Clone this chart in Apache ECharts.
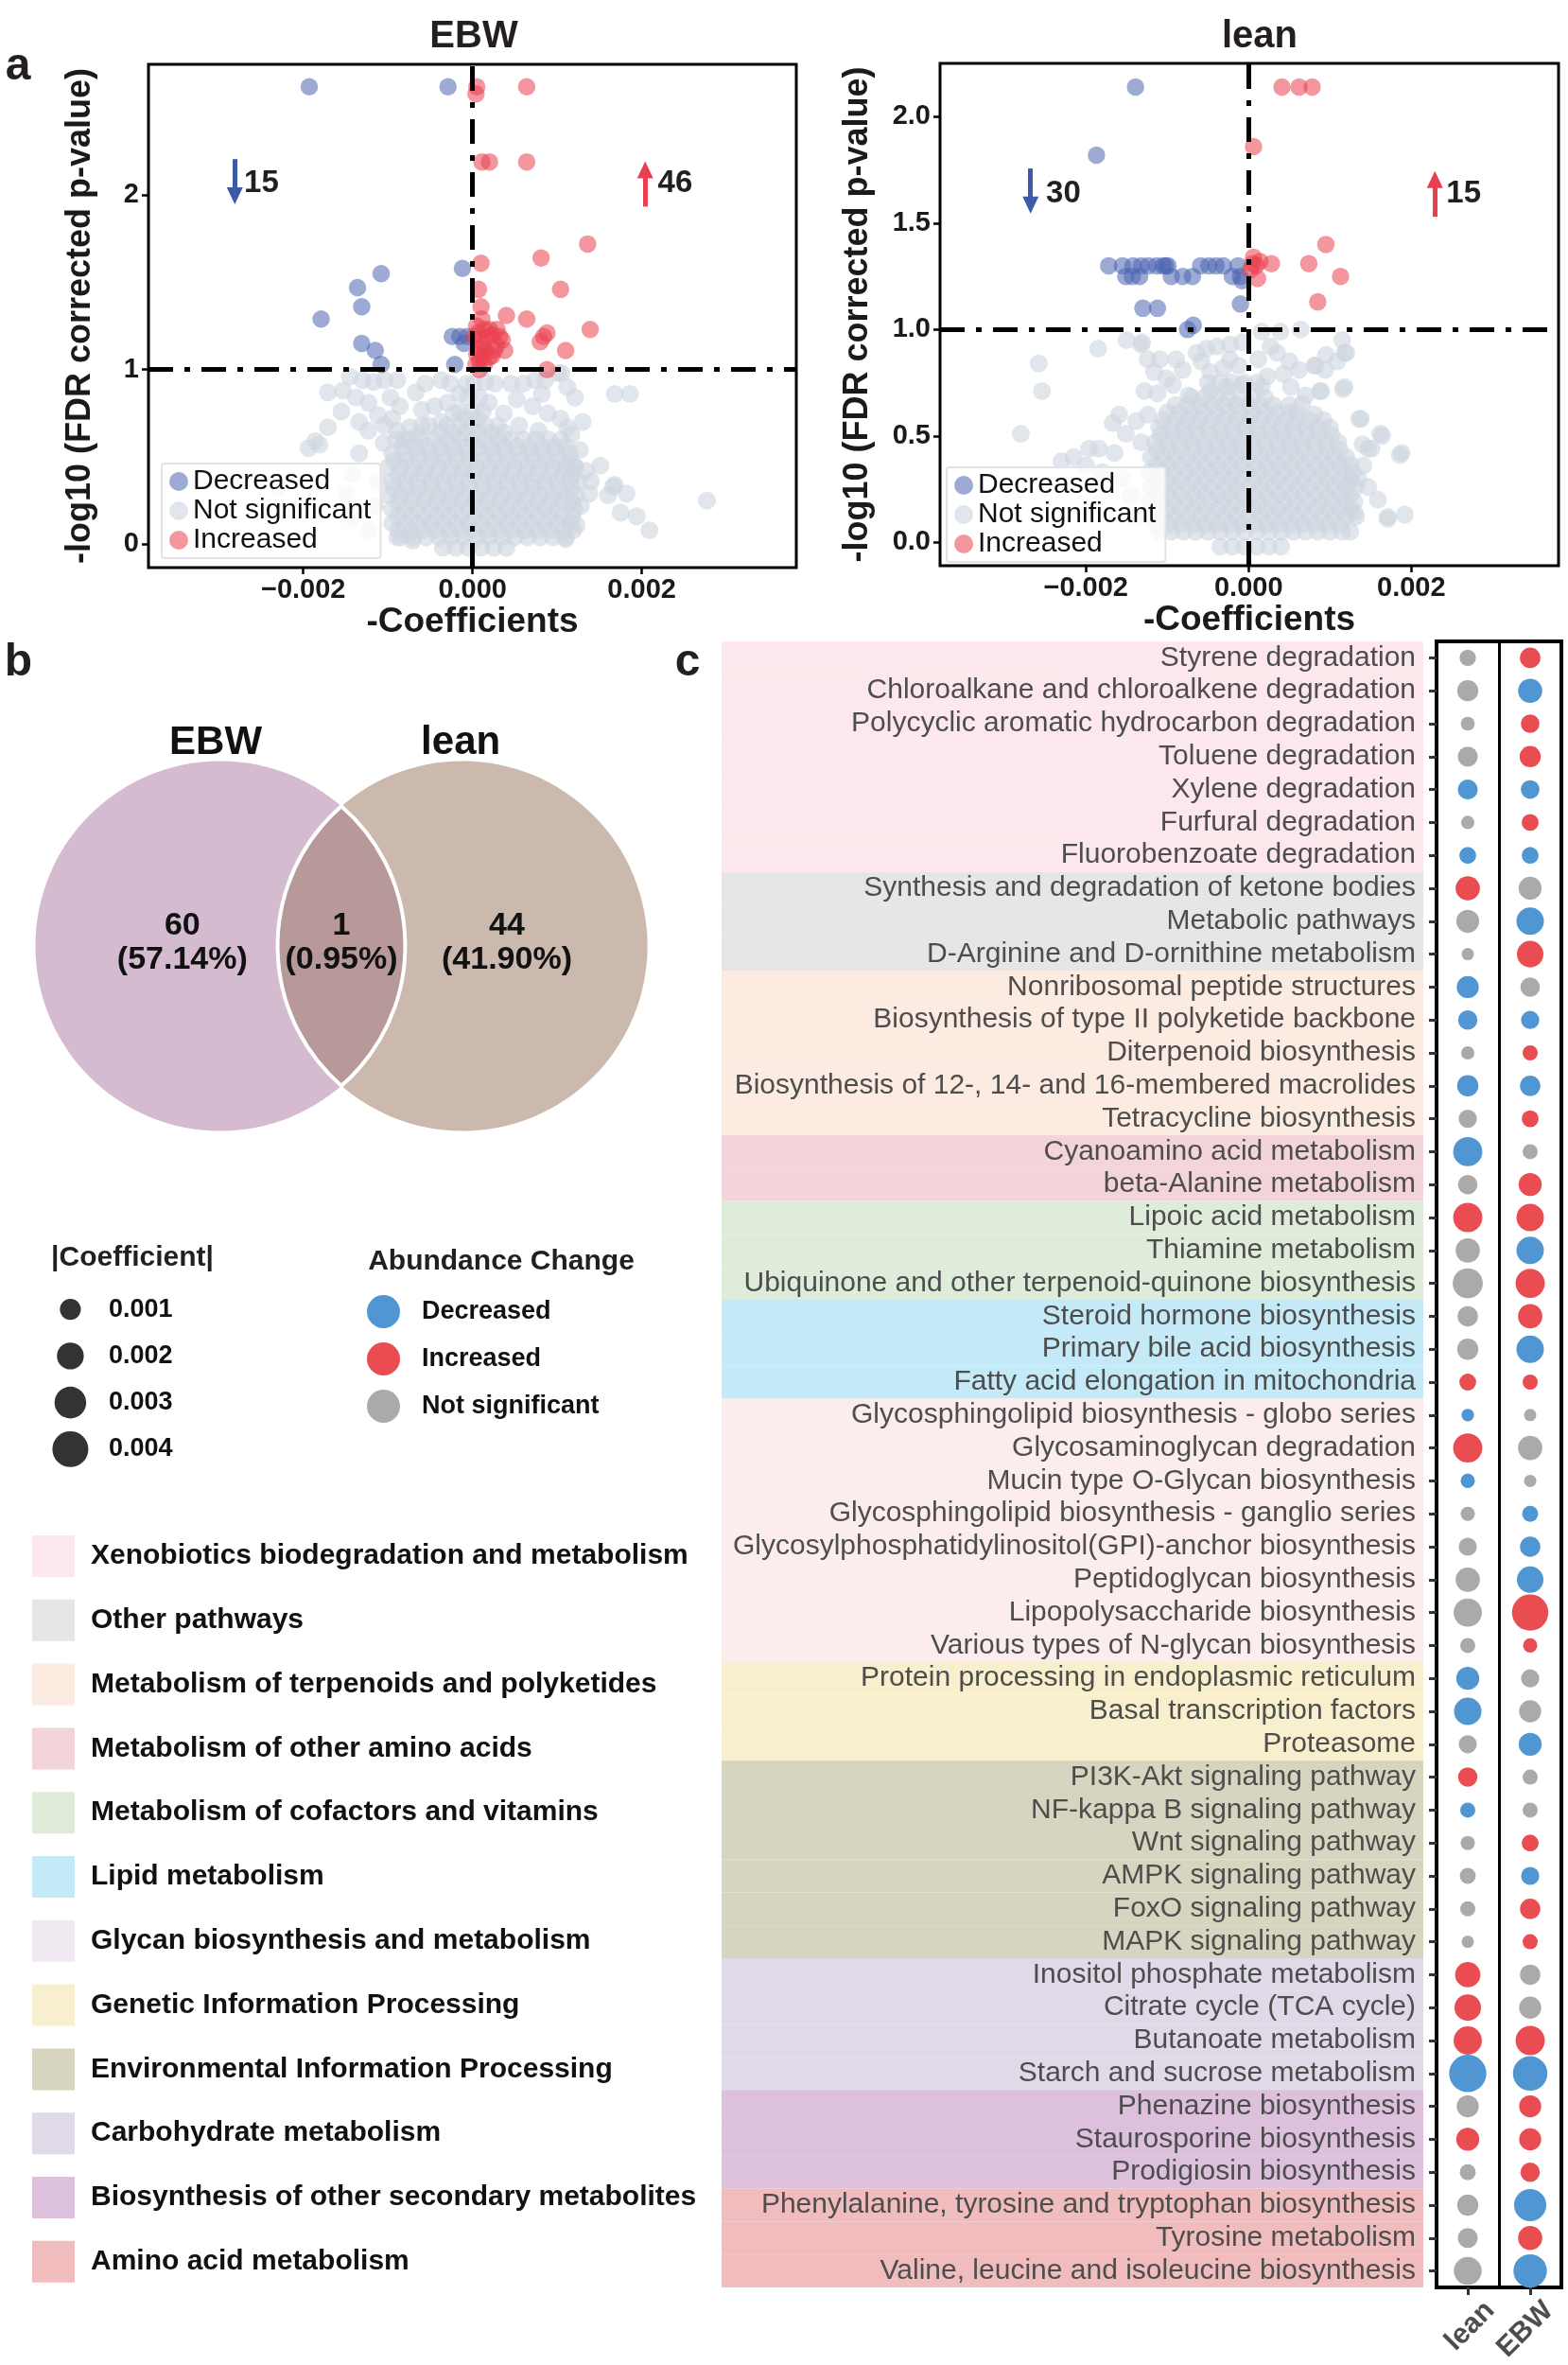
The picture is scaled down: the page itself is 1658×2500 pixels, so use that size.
<!DOCTYPE html>
<html><head><meta charset="utf-8">
<script src="https://cdn.jsdelivr.net/npm/echarts@6/dist/echarts.min.js"></script>
<style>html,body{margin:0;padding:0;background:#fff}#c{width:1658px;height:2500px}</style>
</head><body><div id="c"></div>
<script>
const FONT = '"Liberation Sans", Arial, Helvetica, sans-serif';

// ================= Panel a : volcano plots =================
// points: [coefficient x 1000, -log10(FDR p)]
const ebwDecreased = [[-1.93,2.62],[-0.29,2.62],[-1.08,1.55],[-1.36,1.47],[-1.31,1.36],[-1.79,1.29],[-1.31,1.15],[-1.15,1.11],[-1.08,1.03],[-0.12,1.58],[-0.24,1.19],[-0.15,1.19],[-0.06,1.19],[-0.10,1.15],[-0.21,1.03]];
const ebwIncreased = [[0.05,2.62],[0.64,2.62],[0.04,2.58],[0.11,2.19],[0.20,2.19],[0.64,2.19],[1.36,1.72],[0.81,1.64],[0.10,1.61],[0.07,1.46],[1.04,1.46],[0.10,1.36],[0.40,1.31],[0.64,1.29],[1.39,1.23],[0.11,1.29],[0.14,1.23],[0.17,1.19],[0.23,1.20],[0.32,1.19],[0.35,1.17],[0.11,1.16],[0.08,1.12],[0.16,1.11],[0.26,1.11],[0.11,1.07],[0.14,1.03],[0.08,1.0],[0.84,1.19],[0.80,1.16],[0.88,1.21],[1.10,1.11],[0.38,1.11],[0.88,1.0],[0.05,1.25],[0.06,1.21],[0.20,1.23],[0.28,1.14],[0.05,1.09],[0.20,1.07],[0.08,1.05],[0.29,1.23],[0.02,1.19],[0.12,1.13],[0.23,1.08],[0.04,1.03]];
const ebwNSOutliers = [[-1.71,0.87],[-1.55,0.76],[-1.71,0.67],[-1.86,0.59],[-1.94,0.55],[-1.81,0.57],[-1.45,0.96],[-1.30,0.94],[-1.17,0.93],[-1.04,0.94],[-0.89,0.94],[-0.67,0.87],[-0.56,0.92],[-0.37,0.94],[-0.26,0.92],[-0.15,0.86],[-0.60,0.77],[-0.45,0.79],[-0.30,0.81],[-1.53,0.88],[-1.38,0.84],[-1.23,0.81],[-1.12,0.74],[-0.97,0.84],[-0.86,0.79],[-1.34,0.70],[-1.23,0.65],[-1.04,0.68],[-0.89,0.65],[-0.74,0.67],[-0.52,0.68],[-0.37,0.70],[-0.22,0.75],[-0.07,0.92],[0.15,0.93],[0.26,0.92],[0.45,0.92],[0.60,0.92],[0.74,0.94],[0.86,0.94],[1.01,0.98],[1.12,0.90],[1.21,0.84],[1.30,0.70],[1.17,0.63],[1.27,0.54],[1.34,0.42],[1.40,0.36],[1.38,0.29],[1.51,0.45],[1.68,0.34],[1.82,0.29],[1.75,0.18],[1.94,0.16],[2.09,0.08],[2.77,0.25],[1.68,0.86],[1.86,0.86],[1.23,0.11],[1.19,0.08],[0.82,0.86],[0.89,0.75],[0.71,0.79],[0.52,0.83],[0.37,0.75],[0.19,0.81],[1.04,0.72],[0.78,0.65],[1.12,0.67],[-1.34,0.52],[-1.42,0.40],[-1.49,0.29],[-1.42,0.15],[-1.23,0.08],[-1.15,0.22],[-1.12,0.36],[-0.89,0.04],[-0.71,0.02],[-2.29,0.33],[1.60,0.28],[1.66,0.33],[1.05,0.98],[-0.95,0.72],[-0.80,0.60],[-1.05,0.58],[-0.65,0.62],[1.20,0.45],[1.28,0.22],[1.10,0.03]];
const ebwNSCoreRows = [
  [-0.02,[-0.35,-0.2,-0.05,0.1,0.25,0.4]],
  [0.04,[-0.85,-0.7,-0.55,-0.4,-0.25,-0.1,0.05,0.2,0.35,0.5,0.65,0.8,0.95,1.1]],
  [0.08,[-0.88,-0.73,-0.58,-0.43,-0.28,-0.13,0.02,0.17,0.32,0.47,0.62,0.77,0.92,1.07]],
  [0.12,[-0.95,-0.8,-0.65,-0.5,-0.35,-0.2,-0.05,0.1,0.25,0.4,0.55,0.7,0.85,1.0,1.15]],
  [0.16,[-0.88,-0.73,-0.58,-0.43,-0.28,-0.13,0.02,0.17,0.32,0.47,0.62,0.77,0.92,1.07,1.18]],
  [0.20,[-0.95,-0.8,-0.65,-0.5,-0.35,-0.2,-0.05,0.1,0.25,0.4,0.55,0.7,0.85,1.0,1.2]],
  [0.24,[-0.88,-0.73,-0.58,-0.43,-0.28,-0.13,0.02,0.17,0.32,0.47,0.62,0.77,0.92,1.07,1.18]],
  [0.28,[-1.0,-0.85,-0.7,-0.55,-0.4,-0.25,-0.1,0.05,0.2,0.35,0.5,0.65,0.8,0.95,1.1,1.22]],
  [0.32,[-0.93,-0.78,-0.63,-0.48,-0.33,-0.18,-0.03,0.12,0.27,0.42,0.57,0.72,0.87,1.02,1.17]],
  [0.36,[-0.95,-0.8,-0.65,-0.5,-0.35,-0.2,-0.05,0.1,0.25,0.4,0.55,0.7,0.85,1.0,1.15,1.25]],
  [0.40,[-0.88,-0.73,-0.58,-0.43,-0.28,-0.13,0.02,0.17,0.32,0.47,0.62,0.77,0.92,1.07,1.18]],
  [0.44,[-1.0,-0.85,-0.7,-0.55,-0.4,-0.25,-0.1,0.05,0.2,0.35,0.5,0.65,0.8,0.95,1.1,1.22]],
  [0.48,[-0.93,-0.78,-0.63,-0.48,-0.33,-0.18,-0.03,0.12,0.27,0.42,0.57,0.72,0.87,1.02,1.15]],
  [0.52,[-0.95,-0.8,-0.65,-0.5,-0.35,-0.2,-0.05,0.1,0.25,0.4,0.55,0.7,0.85,1.0,1.15]],
  [0.56,[-0.83,-0.68,-0.53,-0.38,-0.23,-0.08,0.07,0.22,0.37,0.52,0.67,0.82,0.97,1.1]],
  [0.60,[-0.9,-0.75,-0.6,-0.45,-0.3,-0.15,0,0.15,0.3,0.45,0.6,0.75,0.9,1.05]],
  [0.64,[-0.38,-0.23,-0.08,0.07,0.22,0.37]],
  [0.68,[-0.6,-0.3,-0.15,0,0.15,0.3,0.55]],
  [0.72,[-0.08,0.07]],
  [0.76,[-0.15,0,0.12]],
  [0.84,[-0.05,0.08]],
  [0.92,[0.02]]
];

const leanDecreased = [[-1.39,2.14],[-1.87,1.82],[-1.72,1.30],[-1.55,1.30],[-1.42,1.30],[-1.32,1.30],[-1.23,1.30],[-1.13,1.30],[-1.05,1.30],[-1.02,1.30],[-0.99,1.30],[-0.59,1.30],[-0.49,1.30],[-0.40,1.30],[-0.31,1.30],[-0.13,1.30],[-1.51,1.25],[-1.43,1.25],[-1.34,1.25],[-0.95,1.25],[-0.81,1.25],[-0.69,1.25],[-0.20,1.25],[-0.10,1.25],[-0.08,1.23],[-1.30,1.10],[-1.12,1.10],[-0.10,1.12],[-0.75,1.0],[-0.68,1.02]];
const leanIncreased = [[0.41,2.14],[0.62,2.14],[0.78,2.14],[0.06,1.86],[0.95,1.40],[0.74,1.31],[0.28,1.31],[0.05,1.31],[0.09,1.30],[0.02,1.28],[1.13,1.25],[0.11,1.24],[0.85,1.13],[0.14,1.32],[0.06,1.34]];
const leanNSOutliers = [[-2.80,0.51],[-2.58,0.84],[-2.54,0.71],[-1.85,0.91],[-1.50,0.95],[-1.31,0.94],[1.62,0.51],[1.86,0.41],[1.92,0.13],[1.71,0.11],[1.47,0.44],[1.38,0.58],[1.16,0.72],[1.18,0.89],[1.15,0.95],[0.64,1.0],[0.82,0.83],[0.94,0.81],[0.70,0.69],[0.88,0.71],[-1.32,0.93],[-1.24,0.86],[-1.09,0.86],[-1.16,0.80],[-1.01,0.77],[-0.81,0.81],[-0.89,0.86],[-1.28,0.71],[-1.12,0.70],[-0.93,0.74],[-0.64,0.89],[-0.52,0.91],[-0.39,0.92],[-0.23,0.93],[-0.08,0.94],[-0.58,0.85],[-0.47,0.80],[-0.31,0.82],[-0.23,0.86],[-0.12,0.83],[0.12,0.86],[0.27,0.92],[0.39,0.99],[0.16,0.99],[0.35,0.89],[0.50,0.85],[0.62,0.81],[0.43,0.79],[0.23,0.78],[0.16,0.73],[0.52,0.73],[0.81,0.83],[0.95,0.88],[1.09,0.85],[1.20,0.89],[0.89,0.71],[1.18,0.73],[0.66,0.65],[0.81,0.60],[1.36,0.58],[1.64,0.50],[1.51,0.44],[1.88,0.42],[1.41,0.36],[1.47,0.26],[1.59,0.20],[1.71,0.12],[1.30,0.14],[-1.59,0.60],[-1.67,0.56],[-1.38,0.57],[-1.51,0.51],[-1.24,0.60],[-1.96,0.44],[-1.84,0.44],[-2.15,0.40],[-1.65,0.42],[-1.32,0.47],[-0.74,0.69],[-0.47,0.71],[-0.27,0.73],[-0.08,0.74],[-2.30,0.38],[-2.00,0.36],[-1.80,0.33],[-1.55,0.30],[-1.45,0.22],[-1.40,0.12],[1.35,0.30],[1.40,0.46],[1.25,0.05]];
const leanNSCoreRows = [
  [-0.02,[-0.35,-0.2,-0.05,0.1,0.25,0.4]],
  [0.05,[-1.1,-0.95,-0.8,-0.65,-0.5,-0.35,-0.2,-0.05,0.1,0.25,0.4,0.55,0.7,0.85,1.0,1.15]],
  [0.085,[-1.13,-0.98,-0.83,-0.68,-0.53,-0.38,-0.23,-0.08,0.07,0.22,0.37,0.52,0.67,0.82,0.97,1.12]],
  [0.12,[-1.2,-1.05,-0.9,-0.75,-0.6,-0.45,-0.3,-0.15,0,0.15,0.3,0.45,0.6,0.75,0.9,1.05,1.2,1.32]],
  [0.155,[-1.13,-0.98,-0.83,-0.68,-0.53,-0.38,-0.23,-0.08,0.07,0.22,0.37,0.52,0.67,0.82,0.97,1.12,1.25]],
  [0.19,[-1.22,-1.07,-0.92,-0.77,-0.62,-0.47,-0.32,-0.17,-0.02,0.13,0.28,0.43,0.58,0.73,0.88,1.03,1.18,1.3]],
  [0.225,[-1.13,-0.98,-0.83,-0.68,-0.53,-0.38,-0.23,-0.08,0.07,0.22,0.37,0.52,0.67,0.82,0.97,1.12,1.25]],
  [0.26,[-1.2,-1.05,-0.9,-0.75,-0.6,-0.45,-0.3,-0.15,0,0.15,0.3,0.45,0.6,0.75,0.9,1.05,1.2,1.32]],
  [0.295,[-1.13,-0.98,-0.83,-0.68,-0.53,-0.38,-0.23,-0.08,0.07,0.22,0.37,0.52,0.67,0.82,0.97,1.12,1.25]],
  [0.33,[-1.22,-1.07,-0.92,-0.77,-0.62,-0.47,-0.32,-0.17,-0.02,0.13,0.28,0.43,0.58,0.73,0.88,1.03,1.18,1.28]],
  [0.365,[-1.13,-0.98,-0.83,-0.68,-0.53,-0.38,-0.23,-0.08,0.07,0.22,0.37,0.52,0.67,0.82,0.97,1.12,1.25]],
  [0.40,[-1.2,-1.05,-0.9,-0.75,-0.6,-0.45,-0.3,-0.15,0,0.15,0.3,0.45,0.6,0.75,0.9,1.05,1.2]],
  [0.435,[-1.13,-0.98,-0.83,-0.68,-0.53,-0.38,-0.23,-0.08,0.07,0.22,0.37,0.52,0.67,0.82,0.97,1.12]],
  [0.47,[-1.15,-1.0,-0.85,-0.7,-0.55,-0.4,-0.25,-0.1,0.05,0.2,0.35,0.5,0.65,0.8,0.95,1.1]],
  [0.505,[-1.08,-0.93,-0.78,-0.63,-0.48,-0.33,-0.18,-0.03,0.12,0.27,0.42,0.57,0.72,0.87,1.02]],
  [0.54,[-1.1,-0.95,-0.8,-0.65,-0.5,-0.35,-0.2,-0.05,0.1,0.25,0.4,0.55,0.7,0.85,1.0]],
  [0.575,[-1.05,-0.9,-0.75,-0.6,-0.45,-0.3,-0.15,0,0.15,0.3,0.45,0.6,0.75,0.92]],
  [0.61,[-1.0,-0.85,-0.7,-0.55,-0.4,-0.25,-0.1,0.05,0.2,0.35,0.5,0.6]],
  [0.645,[-0.9,-0.75,-0.6,-0.45,-0.3,-0.15,0,0.15,0.3,0.5]],
  [0.68,[-0.7,-0.55,-0.4,-0.25,-0.1,0.05,0.2]],
  [0.75,[-0.5,-0.35,-0.2,-0.05,0.1]]
];
const xTickValues = [-0.002, 0, 0.002];
const ebwYTicks = [0, 1, 2];
const leanYTicks = [0, 0.5, 1, 1.5, 2];
const coefThreshold = 0;
const fdrThreshold = 1;

// ================= Panel b : Venn =================
const vennSets = ['EBW', 'lean'];
const vennCounts = [60, 1, 44]; // EBW only, both, lean only

// ================= Panel c : pathway dot plot =================
const groupNames = ['Xenobiotics biodegradation and metabolism','Other pathways','Metabolism of terpenoids and polyketides','Metabolism of other amino acids','Metabolism of cofactors and vitamins','Lipid metabolism','Glycan biosynthesis and metabolism','Genetic Information Processing','Environmental Information Processing','Carbohydrate metabolism','Biosynthesis of other secondary metabolites','Amino acid metabolism'];
const groupColors = ['#fce8ec','#e6e6e6','#fcebe0','#f4d4db','#deecd9','#c4e9f7','#f2eaf2','#f8f0cd','#d7d5bf','#e0d9e7','#dcc0dc','#f0bcbd'];
const bandColors  = ['#fce8ec','#e6e6e6','#fcebe0','#f4d4db','#deecd9','#c4e9f7','#fbeced','#f8f0cd','#d7d5bf','#e0d9e7','#dcc0dc','#f0bcbd'];
const pathways = ['Styrene degradation','Chloroalkane and chloroalkene degradation','Polycyclic aromatic hydrocarbon degradation','Toluene degradation','Xylene degradation','Furfural degradation','Fluorobenzoate degradation','Synthesis and degradation of ketone bodies','Metabolic pathways','D-Arginine and D-ornithine metabolism','Nonribosomal peptide structures','Biosynthesis of type II polyketide backbone','Diterpenoid biosynthesis','Biosynthesis of 12-, 14- and 16-membered macrolides','Tetracycline biosynthesis','Cyanoamino acid metabolism','beta-Alanine metabolism','Lipoic acid metabolism','Thiamine metabolism','Ubiquinone and other terpenoid-quinone biosynthesis','Steroid hormone biosynthesis','Primary bile acid biosynthesis','Fatty acid elongation in mitochondria','Glycosphingolipid biosynthesis - globo series','Glycosaminoglycan degradation','Mucin type O-Glycan biosynthesis','Glycosphingolipid biosynthesis - ganglio series','Glycosylphosphatidylinositol(GPI)-anchor biosynthesis','Peptidoglycan biosynthesis','Lipopolysaccharide biosynthesis','Various types of N-glycan biosynthesis','Protein processing in endoplasmic reticulum','Basal transcription factors','Proteasome','PI3K-Akt signaling pathway','NF-kappa B signaling pathway','Wnt signaling pathway','AMPK signaling pathway','FoxO signaling pathway','MAPK signaling pathway','Inositol phosphate metabolism','Citrate cycle (TCA cycle)','Butanoate metabolism','Starch and sucrose metabolism','Phenazine biosynthesis','Staurosporine biosynthesis','Prodigiosin biosynthesis','Phenylalanine, tyrosine and tryptophan biosynthesis','Tyrosine metabolism','Valine, leucine and isoleucine biosynthesis'];
const pathwayGroup = [0,0,0,0,0,0,0,1,1,1,2,2,2,2,2,3,3,4,4,4,5,5,5,6,6,6,6,6,6,6,6,7,7,7,8,8,8,8,8,8,9,9,9,9,10,10,10,11,11,11];
// D = Decreased, I = Increased, N = Not significant
const leanStatus = ['N','N','N','N','D','N','D','I','N','N','D','D','N','D','N','D','N','I','N','N','N','N','I','D','I','D','N','N','N','N','N','D','D','N','I','D','N','N','N','N','I','I','I','D','N','I','N','N','N','N'];
const ebwStatus  = ['I','D','I','I','D','I','D','N','D','I','N','D','I','D','I','N','I','I','D','I','I','D','I','N','N','N','D','D','D','I','I','N','N','D','N','N','I','D','I','I','N','N','I','D','I','I','I','D','I','D'];
const leanAbsCoef = [0.00040,0.00104,0.00014,0.00086,0.00086,0.00009,0.00046,0.00154,0.00132,0.00000,0.00118,0.00079,0.00009,0.00105,0.00063,0.00246,0.00079,0.00246,0.00154,0.00265,0.00092,0.00105,0.00046,0.00002,0.00246,0.00018,0.00018,0.00063,0.00154,0.00228,0.00027,0.00132,0.00211,0.00063,0.00079,0.00027,0.00018,0.00036,0.00027,0.00000,0.00171,0.00194,0.00228,0.00434,0.00118,0.00132,0.00036,0.00104,0.00086,0.00220];
const ebwAbsCoef  = [0.00094,0.00152,0.00069,0.00104,0.00069,0.00046,0.00046,0.00132,0.00211,0.00194,0.00079,0.00063,0.00027,0.00092,0.00046,0.00027,0.00132,0.00211,0.00211,0.00246,0.00154,0.00211,0.00027,0.00000,0.00154,0.00000,0.00036,0.00092,0.00194,0.00411,0.00018,0.00063,0.00118,0.00132,0.00027,0.00027,0.00046,0.00063,0.00092,0.00027,0.00092,0.00118,0.00246,0.00366,0.00118,0.00118,0.00079,0.00312,0.00152,0.00340];
const columns = ['lean', 'EBW'];
const sizeLegendValues = [0.001, 0.002, 0.003, 0.004];
const statusNames = {D:'Decreased', I:'Increased', N:'Not significant'};
const statusColors = {D:'#4f96d3', I:'#e94c51', N:'#aaaaaa'};

// ================= build =================
const chart = echarts.init(document.getElementById('c'), null, {renderer:'canvas', width:1658, height:2500});
const flattenRows = rows => rows.flatMap(r => r[1].map(x => [x, r[0]]));
const toCoef = pts => pts.map(p => [p[0] / 1000, p[1]]);
const dotSize = c => Math.sqrt(170 + 318 * c * 1000);

const C_DEC = '#4b64b1', C_INC = '#ea3f4f', C_NS = '#cdd5df';
const ARROW_D = '#3d5aa8', ARROW_U = '#e8404e';

const volcanoes = [
  {dec: ebwDecreased, inc: ebwIncreased, ns: ebwNSOutliers.concat(flattenRows(ebwNSCoreRows)),
   grid:{left:157, top:68, width:685, height:532}, xr:[-0.00383,0.003826], yr:[-0.134,2.749], yTicks:ebwYTicks, yDigits:0,
   yNameGap:54, xNameGap:36, legend:{left:171, top:490},
   arrow:{downX:-2.81, downFrom:2.206, downTo:1.996, downLabelX:-2.70, upX:2.04, upFrom:1.934, upTo:2.145, upLabelX:2.19, labelY:2.068}},
  {dec: leanDecreased, inc: leanIncreased, ns: leanNSOutliers.concat(flattenRows(leanNSCoreRows)),
   grid:{left:994, top:67, width:654, height:531}, xr:[-0.003793,0.00381], yr:[-0.11,2.251], yTicks:leanYTicks, yDigits:1,
   yNameGap:69, xNameGap:38, legend:{left:1001, top:494},
   arrow:{downX:-2.68, downFrom:1.757, downTo:1.585, downLabelX:-2.49, upX:2.29, upFrom:1.53, upTo:1.705, upLabelX:2.43, labelY:1.64}}
];

const grids = [], xAxes = [], yAxes = [], series = [], legends = [];
const axisText = {fontFamily:FONT, fontWeight:'bold', color:'#1a1a1a'};

volcanoes.forEach((v, i) => {
  grids.push(Object.assign({show:true, borderColor:'#000', borderWidth:3, backgroundColor:'#fff'}, v.grid));
  xAxes.push({gridIndex:i, type:'value', min:v.xr[0], max:v.xr[1],
    axisLine:{show:false, onZero:false}, splitLine:{show:false},
    axisTick:{show:true, customValues:xTickValues, length:7, lineStyle:{color:'#000', width:2.5}},
    axisLabel:Object.assign({customValues:xTickValues, fontSize:29, margin:9,
      formatter: val => (val < 0 ? '\u2212' : '') + Math.abs(val).toFixed(3)}, axisText),
    name:'-Coefficients', nameLocation:'middle', nameGap:v.xNameGap,
    nameTextStyle:Object.assign({fontSize:37}, axisText)});
  yAxes.push({gridIndex:i, type:'value', min:v.yr[0], max:v.yr[1],
    axisLine:{show:false, onZero:false}, splitLine:{show:false},
    axisTick:{show:true, customValues:v.yTicks, length:7, lineStyle:{color:'#000', width:2.5}},
    axisLabel:Object.assign({customValues:v.yTicks, fontSize:29, margin:10,
      formatter: val => val.toFixed(v.yDigits)}, axisText),
    name:'-log10 (FDR corrected p-value)', nameLocation:'middle', nameGap:v.yNameGap, nameRotate:90,
    nameTextStyle:Object.assign({fontSize:36}, axisText)});
  series.push({type:'scatter', name:'Not significant', xAxisIndex:i, yAxisIndex:i, data:toCoef(v.ns), symbolSize:19,
    itemStyle:{color:C_NS, opacity:0.6}, z:2, silent:true});
  series.push({type:'scatter', name:'Decreased', xAxisIndex:i, yAxisIndex:i, data:toCoef(v.dec), symbolSize:18.5,
    itemStyle:{color:C_DEC, opacity:0.55}, z:3, silent:true});
  series.push({type:'scatter', name:'Increased', xAxisIndex:i, yAxisIndex:i, data:toCoef(v.inc), symbolSize:18.5,
    itemStyle:{color:C_INC, opacity:0.55}, z:4, silent:true});
  const a = v.arrow;
  series.push({type:'scatter', name:'annotations' + i, xAxisIndex:i, yAxisIndex:i, data:[], z:6, silent:true,
    markLine:{silent:true, animation:false, symbol:['none','none'], label:{show:false},
      lineStyle:{color:'#000', width:5, type:[26,12,6,12]},
      data:[
        {xAxis:coefThreshold},
        {yAxis:fdrThreshold},
        [{coord:[a.downX/1000, a.downFrom], symbol:'none', lineStyle:{color:ARROW_D, width:5, type:'solid'}},
         {coord:[a.downX/1000, a.downTo], symbol:'triangle', symbolSize:[17,18], lineStyle:{color:ARROW_D, width:5, type:'solid'}}],
        [{coord:[a.upX/1000, a.upFrom], symbol:'none', lineStyle:{color:ARROW_U, width:5, type:'solid'}},
         {coord:[a.upX/1000, a.upTo], symbol:'triangle', symbolSize:[17,18], lineStyle:{color:ARROW_U, width:5, type:'solid'}}]
      ]},
    markPoint:{silent:true, animation:false, symbol:'circle', symbolSize:0, itemStyle:{color:'rgba(0,0,0,0)'},
      label:{show:true, position:'right', distance:0, color:'#231f20', fontSize:33, fontWeight:'bold', fontFamily:FONT},
      data:[
        {coord:[a.downLabelX/1000, a.labelY], value:v.dec.length, label:{formatter:String(v.dec.length)}},
        {coord:[a.upLabelX/1000, a.labelY], value:v.inc.length, label:{formatter:String(v.inc.length)}}
      ]}
  });
  legends.push({left:v.legend.left, top:v.legend.top, orient:'vertical', selectedMode:false,
    data:['Decreased','Not significant','Increased'], icon:'circle', itemWidth:20, itemHeight:20, itemGap:1,
    padding:[4,10,4,8], backgroundColor:'rgba(255,255,255,0.8)', borderColor:'#e3e3e3', borderWidth:2, borderRadius:3,
    textStyle:{fontSize:30, color:'#111', fontFamily:FONT}});
});

// ---- Panel c: dot plot (grid 2) and category bands (grid 3)
grids.push({left:1519, top:678, width:132, height:1740, show:true, borderColor:'#000', borderWidth:4});
xAxes.push({gridIndex:2, type:'category', data:columns, axisLine:{show:false},
  axisTick:{show:true, alignWithLabel:true, length:8, lineStyle:{color:'#333', width:3}},
  splitLine:{show:true, lineStyle:{color:'#000', width:3}},
  axisLabel:{show:false}});
yAxes.push({gridIndex:2, type:'category', data:pathways, inverse:true, z:5, axisLine:{show:false},
  axisTick:{show:true, alignWithLabel:true, length:8, lineStyle:{color:'#333', width:3}},
  splitLine:{show:false},
  axisLabel:{interval:0, fontSize:30, color:'#4d4d4d', fontFamily:FONT, margin:22}});
grids.push({left:763, top:678, width:742, height:1740});
xAxes.push({gridIndex:3, type:'value', min:0, max:1, show:false});
yAxes.push({gridIndex:3, type:'category', data:pathways, inverse:true, show:false});

groupNames.forEach((g, gi) => {
  series.push({type:'bar', name:g, xAxisIndex:3, yAxisIndex:3, barGap:'-100%', barCategoryGap:'0%', silent:true, z:0,
    itemStyle:{color:bandColors[gi], borderColor:bandColors[gi], borderWidth:1},
    data:pathways.map((p, pi) => pathwayGroup[pi] === gi ? 1 : '-')});
});

['D','I','N'].forEach(s => {
  const data = [];
  pathways.forEach((p, pi) => {
    if (leanStatus[pi] === s) data.push([columns[0], p, leanAbsCoef[pi]]);
    if (ebwStatus[pi] === s) data.push([columns[1], p, ebwAbsCoef[pi]]);
  });
  series.push({type:'scatter', name:statusNames[s], xAxisIndex:2, yAxisIndex:2, data, silent:true, z:4,
    symbolSize: val => dotSize(val[2]), itemStyle:{color:statusColors[s], opacity:1}});
});

// ---- Panel b: Venn (grid 4, units = circle radius)
grids.push({left:10, top:700, width:702, height:600});
xAxes.push({gridIndex:4, type:'value', min:-1.795, max:1.795, show:false});
yAxes.push({gridIndex:4, type:'value', min:-1.535, max:1.535, show:false});
const vennColors = ['#d5bbcf', '#cbb9ae', '#b69998'];
const vennHalfDist = 0.655;
series.push({type:'custom', name:'venn', xAxisIndex:4, yAxisIndex:4, data:[[0,0]], silent:true,
  renderItem: (params, api) => {
    const cL = api.coord([-vennHalfDist, 0]), cR = api.coord([vennHalfDist, 0]);
    const r = api.size([1, 0])[0];
    const half = (cR[0] - cL[0]) / 2, mx = (cL[0] + cR[0]) / 2, cy = cL[1];
    const h = Math.sqrt(r * r - half * half);
    const total = vennCounts.reduce((s, c) => s + c, 0);
    const pct = c => '(' + (c / total * 100).toFixed(2) + '%)';
    const lens = 'M' + mx + ',' + (cy - h) + ' A' + r + ',' + r + ' 0 0 1 ' + mx + ',' + (cy + h) +
                 ' A' + r + ',' + r + ' 0 0 1 ' + mx + ',' + (cy - h) + ' Z';
    const txt = (p, s, size) => ({type:'text', x:p[0], y:p[1],
      style:{text:s, fill:'#111', font:'bold ' + size + 'px ' + FONT, align:'center', verticalAlign:'middle',
             textAlign:'center', textVerticalAlign:'middle', lineHeight:36}});
    return {type:'group', children:[
      {type:'circle', shape:{cx:cL[0], cy:cy, r:r}, style:{fill:vennColors[0]}},
      {type:'circle', shape:{cx:cR[0], cy:cy, r:r}, style:{fill:vennColors[1]}},
      {type:'path', shape:{pathData:lens}, style:{fill:vennColors[2], stroke:'#fff', lineWidth:4}},
      txt(api.coord([-0.86, 0.015]), vennCounts[0] + '\n' + pct(vennCounts[0]), 34),
      txt(api.coord([0, 0.015]), vennCounts[1] + '\n' + pct(vennCounts[1]), 34),
      txt(api.coord([0.895, 0.015]), vennCounts[2] + '\n' + pct(vennCounts[2]), 34),
      txt(api.coord([-0.68, 1.1]), vennSets[0], 42),
      txt(api.coord([0.645, 1.1]), vennSets[1], 42)
    ]};
  }});

// ---- Size legend (grid 5)
grids.push({left:45, top:1359.5, width:60, height:197});
xAxes.push({gridIndex:5, type:'value', min:0, max:1, show:false});
yAxes.push({gridIndex:5, type:'category', data:sizeLegendValues.map(v => v.toFixed(3)), inverse:true, position:'right',
  axisLine:{show:false}, axisTick:{show:false}, splitLine:{show:false},
  axisLabel:{margin:10, align:'left', fontSize:27, fontWeight:'bold', color:'#111', fontFamily:FONT}});
series.push({type:'scatter', name:'sizeLegend', xAxisIndex:5, yAxisIndex:5, silent:true,
  data:sizeLegendValues.map(v => [0.49, v.toFixed(3), v]), symbolSize: val => dotSize(val[2]), itemStyle:{color:'#000'}});

// ---- Column labels of the dot plot (grid 6, same columns, label anchor per ggplot hjust)
grids.push({left:1534, top:678, width:132, height:1740});
xAxes.push({gridIndex:6, type:'category', data:columns, axisLine:{show:false}, axisTick:{show:false}, splitLine:{show:false},
  axisLabel:{interval:0, rotate:45, fontSize:30, fontWeight:'bold', color:'#4d4d4d', fontFamily:FONT, margin:10, align:'right', verticalAlign:'top'}});
yAxes.push({gridIndex:6, type:'value', show:false});

// ---- Legends for panel c
legends.push({left:388, top:1369, orient:'vertical', selectedMode:false, icon:'circle', itemWidth:35, itemHeight:35, itemGap:15, padding:0,
  data:['D','I','N'].map(s => ({name:statusNames[s], itemStyle:{color:statusColors[s], opacity:1, borderWidth:0}})),
  textStyle:{fontSize:27, fontWeight:'bold', color:'#111', fontFamily:FONT, padding:[0,0,0,18]}});
legends.push({left:34, top:1623, orient:'vertical', selectedMode:false, icon:'rect', itemWidth:45, itemHeight:44, itemGap:23.8, padding:0,
  data:groupNames.map((g, gi) => ({name:g, itemStyle:{color:groupColors[gi], borderWidth:0}})),
  textStyle:{fontSize:30, fontWeight:'bold', color:'#111', fontFamily:FONT, padding:[0,0,0,12]}});

const gtext = (x, y, s, size, align) => ({type:'text', x, y, silent:true,
  style:{text:s, fill:'#231f20', font:'bold ' + size + 'px ' + FONT, align:align || 'center', verticalAlign:'middle',
         textAlign:align || 'center', textVerticalAlign:'middle'}});

chart.setOption({
  animation:false,
  backgroundColor:'#fff',
  grid:grids, xAxis:xAxes, yAxis:yAxes, legend:legends, series,
  graphic:[
    gtext(19, 71, 'a', 48), gtext(19.5, 701, 'b', 48), gtext(727, 701, 'c', 48),
    gtext(501, 39, 'EBW', 40), gtext(1332, 39, 'lean', 40),
    gtext(140, 1330, '|Coefficient|', 30), gtext(530, 1334, 'Abundance Change', 30)
  ]
});
</script></body></html>
